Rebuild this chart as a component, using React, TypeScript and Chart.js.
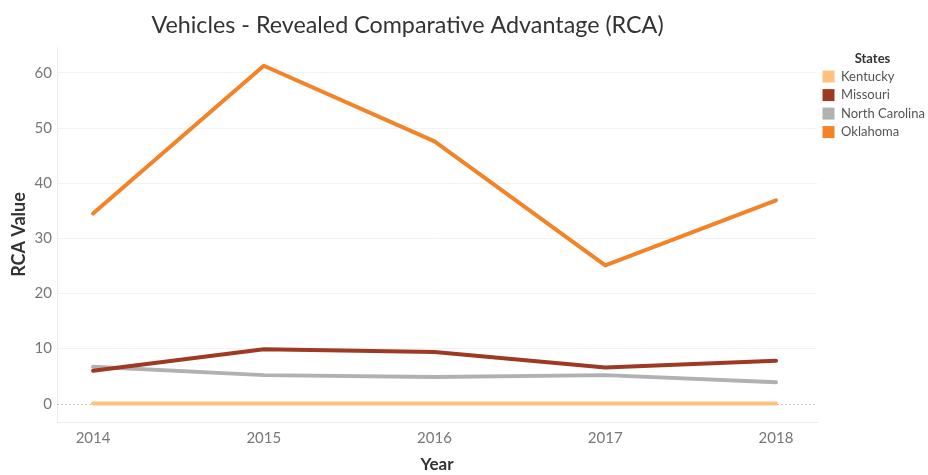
import React, { useEffect, useRef } from "react";
import { Chart, registerables } from "chart.js";

Chart.register(...registerables);

const chartTitle = "Vehicles - Revealed Comparative Advantage (RCA)";
const years = [2014, 2015, 2016, 2017, 2018];
const stateNames = ["Kentucky", "Missouri", "North Carolina", "Oklahoma"];
const kentucky = [0.05, 0.05, 0.05, 0.05, 0.05];
const missouri = [6.0, 9.9, 9.4, 6.6, 7.8];
const northCarolina = [6.7, 5.2, 4.85, 5.2, 3.9];
const oklahoma = [34.5, 61.3, 47.6, 25.1, 36.9];
const stateColors = ["#ffc17f", "#9f3a22", "#b0b2b1", "#f28327"];
const yTicks = [0, 10, 20, 30, 40, 50, 60];

const FONT = "Lato, 'Noto Sans', sans-serif";

const zeroLine = {
  id: "zeroLine",
  beforeDatasetsDraw(chart: any) {
    const { ctx, chartArea, scales } = chart;
    const y = Math.round(scales.y.getPixelForValue(0));
    ctx.save();
    ctx.strokeStyle = "#c8c8c8";
    ctx.lineWidth = 1;
    ctx.setLineDash([2, 2]);
    ctx.beginPath();
    ctx.moveTo(chartArea.left, y + 0.5);
    ctx.lineTo(chartArea.right, y + 0.5);
    ctx.stroke();
    ctx.restore();
  },
};

// Title centred over the worksheet area (left edge to the plot's right edge)
const sheetTitle = {
  id: "sheetTitle",
  afterDraw(chart: any) {
    const { ctx, chartArea } = chart;
    ctx.save();
    ctx.font = `normal 23.3px ${FONT}`;
    ctx.fillStyle = "#333333";
    ctx.textAlign = "center";
    ctx.textBaseline = "middle";
    ctx.fillText(chartTitle, chartArea.right / 2 - 1, 25);
    ctx.restore();
  },
};

export default function App() {
  const ref = useRef<HTMLCanvasElement | null>(null);
  useEffect(() => {
    if (!ref.current) return;
    const series = [kentucky, missouri, northCarolina, oklahoma];
    const chart = new Chart(ref.current, {
      type: "line",
      data: {
        datasets: series.map((vals, i) => ({
          label: stateNames[i],
          data: vals.map((v, j) => ({ x: years[j], y: v })),
          borderColor: stateColors[i],
          backgroundColor: stateColors[i],
          borderWidth: 4,
          pointRadius: 0,
          tension: 0,
          borderCapStyle: "round" as const,
          borderJoinStyle: "round" as const,
        })),
      },
      options: {
        animation: false,
        responsive: true,
        maintainAspectRatio: false,
        layout: { padding: { left: 0, right: 0, top: 47, bottom: 0 } },
        plugins: {
          title: { display: false },
          legend: {
            position: "right",
            align: "start",
            maxWidth: 111,
            title: {
              display: true,
              text: "States",
              color: "#333333",
              font: { family: FONT, size: 13, weight: "bold" },
              padding: { top: 5, bottom: -3 },
            },
            labels: {
              boxWidth: 12,
              boxHeight: 12,
              padding: 5.5,
              color: "#555555",
              font: { family: FONT, size: 13 },
              generateLabels(chart: any) {
                const labels = Chart.defaults.plugins.legend.labels.generateLabels(chart);
                return labels.map((l: any) => ({ ...l, lineWidth: 0, strokeStyle: "transparent" }));
              },
            },
          },
          tooltip: { enabled: false },
        },
        scales: {
          x: {
            type: "linear",
            min: 2013.789,
            max: 2018.24,
            afterBuildTicks(scale: any) {
              scale.ticks = years.map((v) => ({ value: v }));
            },
            afterFit(scale: any) {
              scale.height = 53;
            },
            ticks: {
              color: "#777777",
              font: { family: FONT, size: 15 },
              padding: 7,
              callback: (v: any) => String(v),
            },
            grid: { display: false, drawTicks: false },
            border: { display: true, color: "#ececec" },
            title: {
              display: true,
              text: "Year",
              color: "#333333",
              font: { family: FONT, size: 17, weight: "bold" },
              padding: { top: 7, bottom: 0 },
            },
          },
          y: {
            type: "linear",
            min: -3.3,
            max: 64.7,
            afterBuildTicks(scale: any) {
              scale.ticks = yTicks.map((v) => ({ value: v }));
            },
            afterFit(scale: any) {
              scale.width = 57;
            },
            ticks: {
              color: "#777777",
              font: { family: FONT, size: 15 },
              padding: 5,
            },
            grid: {
              drawTicks: false,
              color: (c: any) => (c.tick && c.tick.value === 0 ? "transparent" : "#f2f2f2"),
            },
            border: { display: true, color: "#ececec" },
            title: {
              display: true,
              text: "RCA Value",
              color: "#333333",
              font: { family: FONT, size: 18, weight: "bold" },
              padding: { top: 8, bottom: 0 },
            },
          },
        },
      },
      plugins: [zeroLine, sheetTitle],
    } as any);
    return () => chart.destroy();
  }, []);
  return (
    <div style={{ position: "fixed", left: 0, top: 0, width: 928, height: 475, background: "#fff" }}>
      <canvas ref={ref} />
    </div>
  );
}
